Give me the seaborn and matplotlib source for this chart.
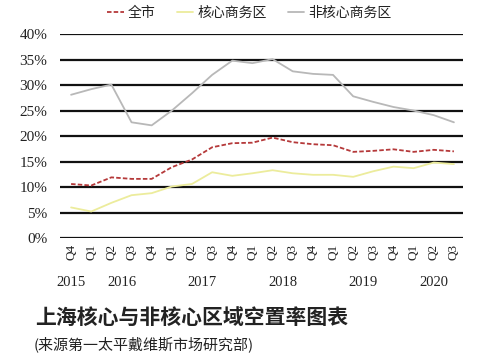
import matplotlib
matplotlib.use("Agg")
import matplotlib.pyplot as plt
import seaborn as sns
import pandas as pd
import numpy as np

quarters = ["Q4", "Q1", "Q2", "Q3", "Q4", "Q1", "Q2", "Q3", "Q4", "Q1",
            "Q2", "Q3", "Q4", "Q1", "Q2", "Q3", "Q4", "Q1", "Q2", "Q3"]
years = ["2015", "2016", "2017", "2018", "2019", "2020"]
year_pos = [0, 2.5, 6.5, 10.5, 14.5, 18]

city = [10.6, 10.3, 11.9, 11.6, 11.6, 13.9, 15.4, 17.8, 18.6, 18.7,
        19.7, 18.8, 18.4, 18.2, 16.9, 17.1, 17.4, 16.9, 17.3, 17.0]
core = [6.0, 5.2, 6.9, 8.4, 8.8, 10.1, 10.6, 12.9, 12.2, 12.7,
        13.3, 12.7, 12.4, 12.4, 12.0, 13.1, 14.0, 13.7, 14.8, 14.5]
noncore = [28.1, 29.2, 30.1, 22.7, 22.1, 25.0, 28.4, 32.0, 34.8, 34.3,
           35.1, 32.7, 32.2, 32.0, 27.8, 26.7, 25.7, 25.0, 24.1, 22.7]
series_names = ["全市", "核心商务区", "非核心商务区"]

sns.set_theme(style="white")
plt.rcParams['font.family'] = ['Noto Sans CJK SC', 'DejaVu Sans']

fig = plt.figure(figsize=(5.0, 3.59), dpi=100)
fig.patch.set_facecolor("white")
ax = fig.add_axes([0.12, 0.337, 0.806, 0.568])
ax.set_facecolor("white")

x = np.arange(len(quarters))
colors = ["#b5393a", "#ecec9c", "#b8b8b8"]
styles = [(0, (2.5, 1.2)), "-", "-"]
for name, vals, c, ls in zip(series_names, [city, core, noncore], colors, styles):
    sns.lineplot(x=x, y=vals, ax=ax, color=c, linestyle=ls, linewidth=1.3, label=name)

ax.set_ylim(0, 40)
ax.set_xlim(-0.55, 19.45)
ax.set_yticks(np.arange(0, 41, 5))
ax.set_yticklabels([f"{v}%" for v in range(0, 41, 5)], family="Liberation Serif", fontsize=11, color="#222222")
ax.yaxis.grid(True, color="#111111", linewidth=1.6)
ax.xaxis.grid(False)
ax.set_axisbelow(True)
for s in ax.spines.values():
    s.set_visible(False)
ax.tick_params(axis="y", length=0, pad=9)
ax.tick_params(axis="x", length=0, pad=4)
ax.set_xticks(x)
ax.set_xticklabels(quarters, rotation=90, family="Liberation Serif", fontsize=9.5, color="#222222")

for yp, yl in zip(year_pos, years):
    ax.text(yp, -0.22, yl, transform=ax.get_xaxis_transform(), ha="center", va="center",
            family="Liberation Serif", fontsize=10.5, color="#222222")

leg = ax.legend(loc="lower center", bbox_to_anchor=(0.47, 1.01), ncol=3, frameon=False,
                fontsize=10, handlelength=1.2, handletextpad=0.3, columnspacing=1.5)
for t in leg.get_texts():
    t.set_color("#222222")

fig.text(0.07, 0.117, "上海核心与非核心区域空置率图表", fontsize=15, fontweight="bold",
         color="#222222", ha="left", va="center")
fig.text(0.068, 0.04, "(来源第一太平戴维斯市场研究部)", fontsize=10.8,
         color="#222222", ha="left", va="center")

fig.savefig("out.png", dpi=100, facecolor="white")
